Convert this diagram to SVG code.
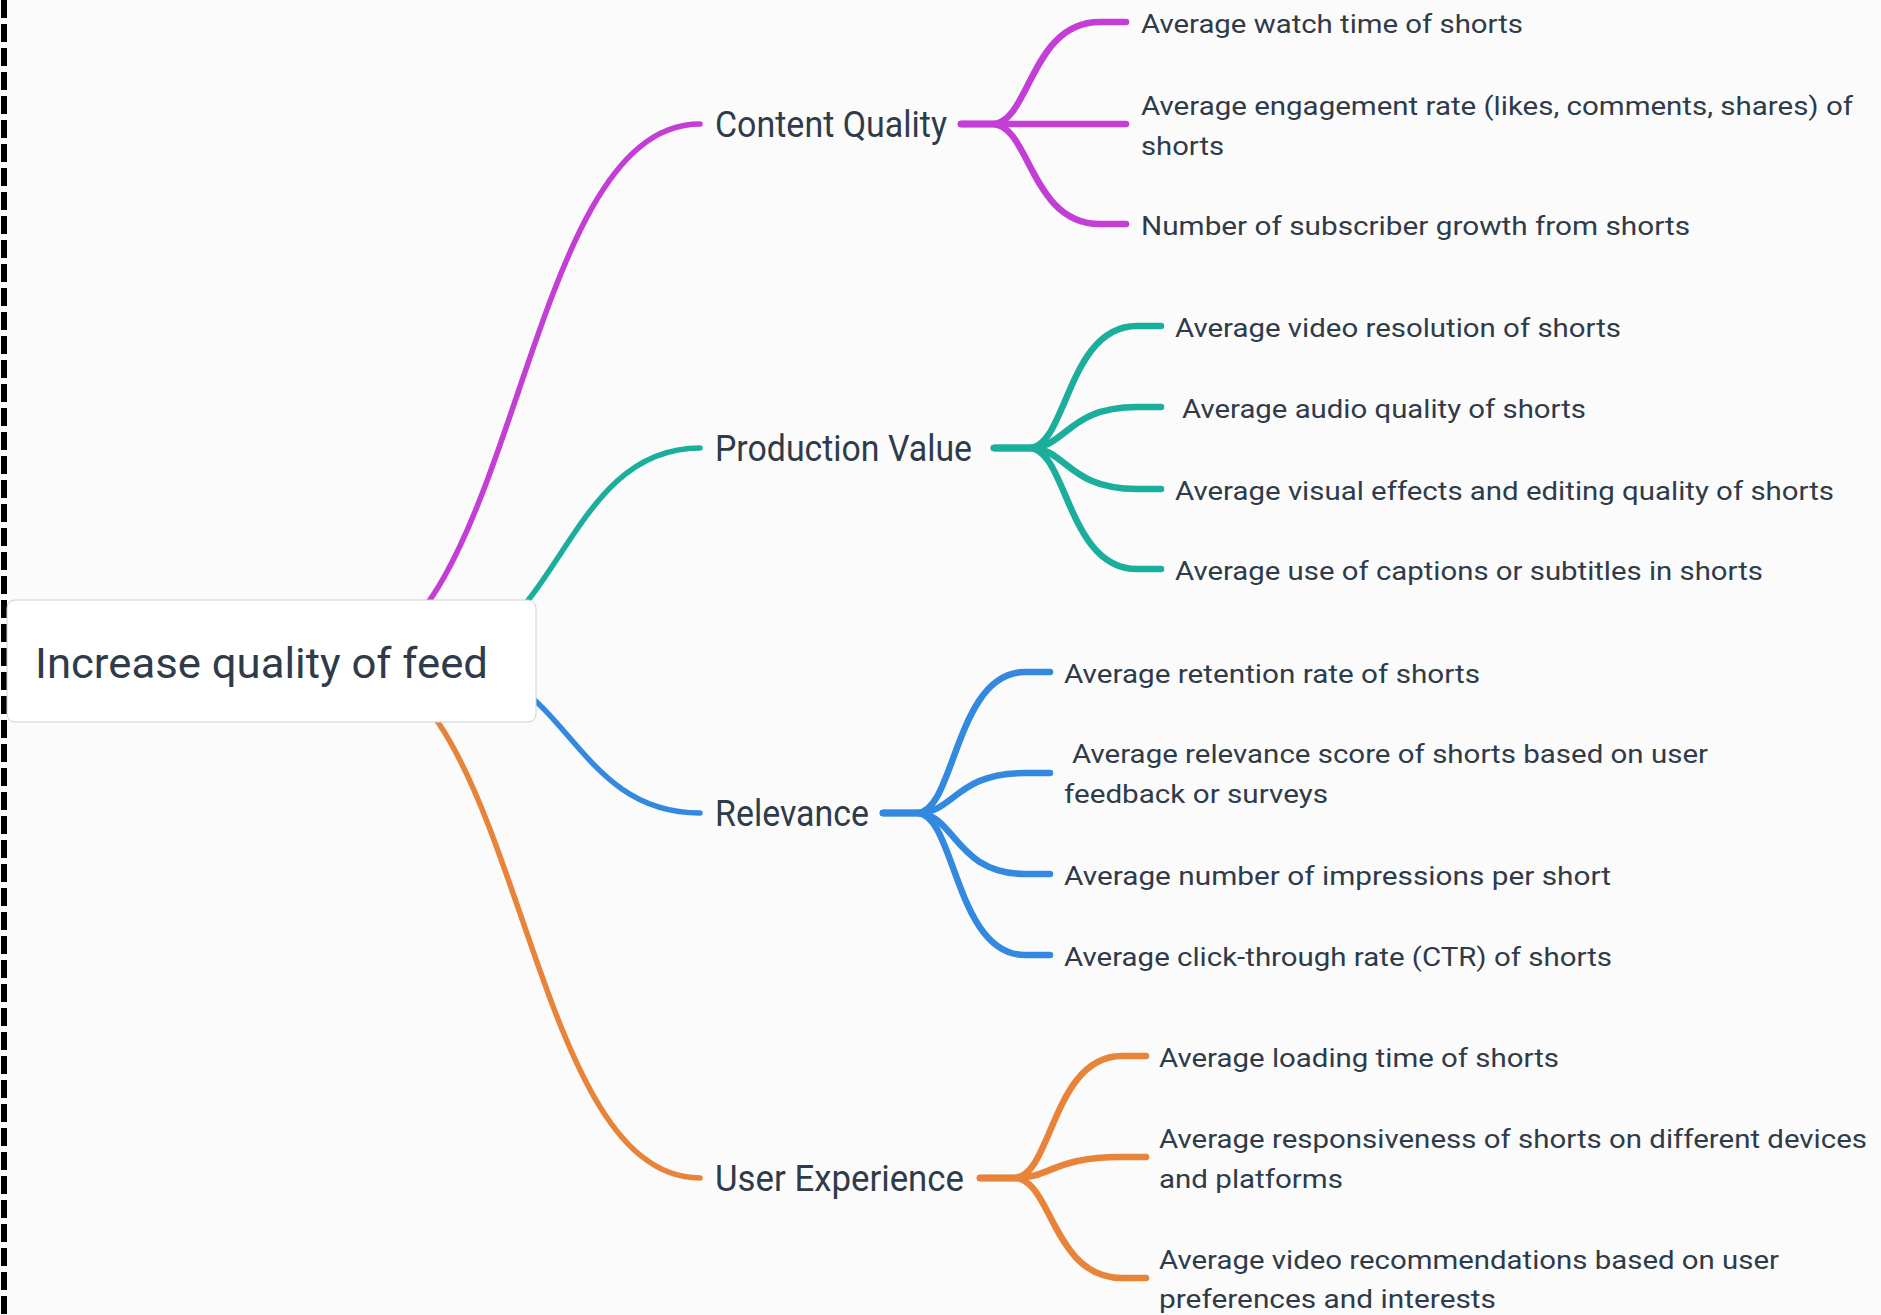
<svg xmlns="http://www.w3.org/2000/svg" width="1881" height="1315" viewBox="0 0 1881 1315">
<style>
.t{font-family:Roboto,"Liberation Sans",sans-serif;fill:#2f3b49}
.leaf{font-size:26px}
.br{font-size:36px}
.root{font-size:43px}
.c{fill:none;stroke-linecap:round;stroke-linejoin:round}
.m{stroke-width:5.5}
.s{stroke-width:6.5}
.mag{stroke:#c23ed4}
.tea{stroke:#1bae9c}
.blu{stroke:#3389df}
.ora{stroke:#e8843a}
</style>
<rect x="0" y="0" width="1881" height="1315" fill="#fbfbfb"/>
<g id="connectors">
<path class="c m mag" d="M336 661 C518 661 518 124 700 124"/>
<path class="c m tea" d="M420 661 C560 661 560 448 700 448"/>
<path class="c m blu" d="M438 661 C569 661 569 813 700 813"/>
<path class="c m ora" d="M345 661 C522 661 522 1178 700 1178"/>
<path class="c s mag" d="M961 124 H992 C1030 124 1030 22 1100 22 H1126"/>
<path class="c s mag" d="M961 124 H1126"/>
<path class="c s mag" d="M961 124 H992 C1030 124 1030 224 1100 224 H1126"/>
<path class="c s tea" d="M994 448 H1029 C1067 448 1067 326 1137 326 H1161"/>
<path class="c s tea" d="M994 448 H1029 C1067 448 1067 407 1137 407 H1161"/>
<path class="c s tea" d="M994 448 H1029 C1067 448 1067 489 1137 489 H1161"/>
<path class="c s tea" d="M994 448 H1029 C1067 448 1067 569 1137 569 H1161"/>
<path class="c s blu" d="M883 813 H917 C955 813 955 672 1025 672 H1050"/>
<path class="c s blu" d="M883 813 H917 C955 813 955 773 1025 773 H1050"/>
<path class="c s blu" d="M883 813 H917 C955 813 955 874 1025 874 H1050"/>
<path class="c s blu" d="M883 813 H917 C955 813 955 955 1025 955 H1050"/>
<path class="c s ora" d="M980 1178 H1014 C1052 1178 1052 1056 1122 1056 H1146"/>
<path class="c s ora" d="M980 1178 H1014 C1052 1178 1052 1157 1122 1157 H1146"/>
<path class="c s ora" d="M980 1178 H1014 C1052 1178 1052 1278 1122 1278 H1146"/>
</g>
<line x1="4" y1="0" x2="4" y2="1315" stroke="#000" stroke-width="6" stroke-dasharray="18 6"/>
<g id="root">
<rect x="7" y="600" width="529" height="122" rx="8" fill="#fff" stroke="#cfcfcf" stroke-width="1"/>
<text class="t root" x="35" y="678" textLength="453" lengthAdjust="spacingAndGlyphs">Increase quality of feed</text>
</g>
<g id="content-quality"><text class="t br" x="715" y="137" textLength="232" lengthAdjust="spacingAndGlyphs">Content Quality</text></g>
<g id="production-value"><text class="t br" x="715" y="461" textLength="257" lengthAdjust="spacingAndGlyphs">Production Value</text></g>
<g id="relevance"><text class="t br" x="715" y="826" textLength="154" lengthAdjust="spacingAndGlyphs">Relevance</text></g>
<g id="user-experience"><text class="t br" x="715" y="1191" textLength="249" lengthAdjust="spacingAndGlyphs">User Experience</text></g>
<g id="cq1"><text class="t leaf" x="1141" y="33" textLength="382" lengthAdjust="spacingAndGlyphs">Average watch time of shorts</text></g>
<g id="cq2"><text class="t leaf" x="1141" y="115" textLength="712" lengthAdjust="spacingAndGlyphs">Average engagement rate (likes, comments, shares) of</text><text class="t leaf" x="1141" y="155" textLength="83" lengthAdjust="spacingAndGlyphs">shorts</text></g>
<g id="cq3"><text class="t leaf" x="1141" y="235" textLength="549" lengthAdjust="spacingAndGlyphs">Number of subscriber growth from shorts</text></g>
<g id="pv1"><text class="t leaf" x="1175" y="337" textLength="446" lengthAdjust="spacingAndGlyphs">Average video resolution of shorts</text></g>
<g id="pv2"><text class="t leaf" x="1182" y="418" textLength="404" lengthAdjust="spacingAndGlyphs">Average audio quality of shorts</text></g>
<g id="pv3"><text class="t leaf" x="1175" y="500" textLength="659" lengthAdjust="spacingAndGlyphs">Average visual effects and editing quality of shorts</text></g>
<g id="pv4"><text class="t leaf" x="1175" y="580" textLength="588" lengthAdjust="spacingAndGlyphs">Average use of captions or subtitles in shorts</text></g>
<g id="r1"><text class="t leaf" x="1064" y="683" textLength="416" lengthAdjust="spacingAndGlyphs">Average retention rate of shorts</text></g>
<g id="r2"><text class="t leaf" x="1072" y="763" textLength="636" lengthAdjust="spacingAndGlyphs">Average relevance score of shorts based on user</text><text class="t leaf" x="1064" y="803" textLength="264" lengthAdjust="spacingAndGlyphs">feedback or surveys</text></g>
<g id="r3"><text class="t leaf" x="1064" y="885" textLength="547" lengthAdjust="spacingAndGlyphs">Average number of impressions per short</text></g>
<g id="r4"><text class="t leaf" x="1064" y="966" textLength="548" lengthAdjust="spacingAndGlyphs">Average click-through rate (CTR) of shorts</text></g>
<g id="ux1"><text class="t leaf" x="1159" y="1067" textLength="400" lengthAdjust="spacingAndGlyphs">Average loading time of shorts</text></g>
<g id="ux2"><text class="t leaf" x="1159" y="1148" textLength="708" lengthAdjust="spacingAndGlyphs">Average responsiveness of shorts on different devices</text><text class="t leaf" x="1159" y="1188" textLength="184" lengthAdjust="spacingAndGlyphs">and platforms</text></g>
<g id="ux3"><text class="t leaf" x="1159" y="1269" textLength="620" lengthAdjust="spacingAndGlyphs">Average video recommendations based on user</text><text class="t leaf" x="1159" y="1308" textLength="337" lengthAdjust="spacingAndGlyphs">preferences and interests</text></g>
</svg>
